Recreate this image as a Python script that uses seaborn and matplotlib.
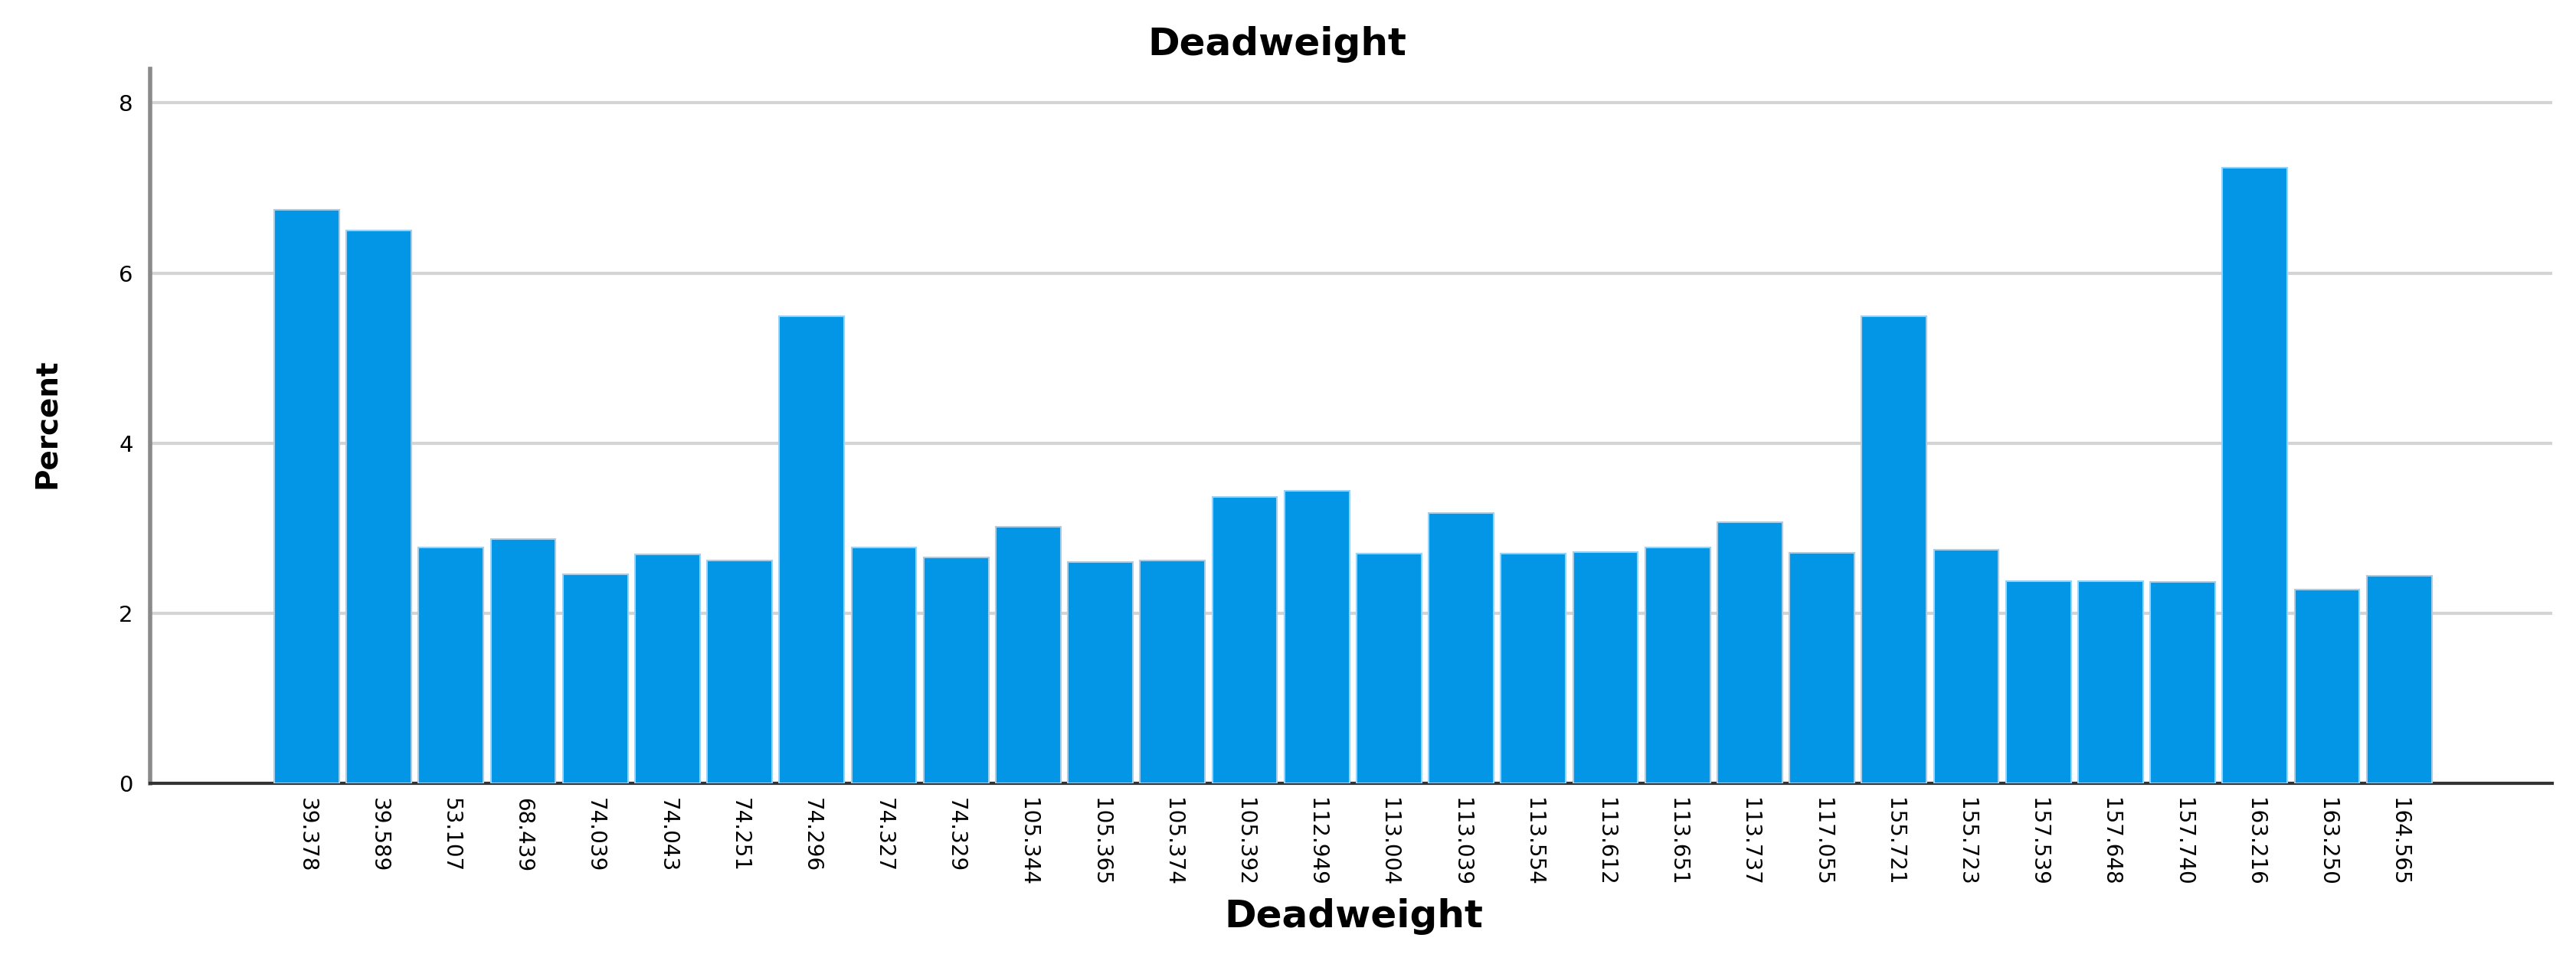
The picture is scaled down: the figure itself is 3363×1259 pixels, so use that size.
import numpy as np
import pandas as pd
import matplotlib
matplotlib.use('Agg')
import matplotlib.pyplot as plt
import seaborn as sns

# Dados
deadweight = ['39.378', '39.589', '53.107', '68.439', '74.039', '74.043', '74.251',
              '74.296', '74.327', '74.329', '105.344', '105.365', '105.374', '105.392',
              '112.949', '113.004', '113.039', '113.554', '113.612', '113.651',
              '113.737', '117.055', '155.721', '155.723', '157.539', '157.648',
              '157.740', '163.216', '163.250', '164.565']
percent = [6.74, 6.50, 2.77, 2.87, 2.46, 2.69, 2.62,
           5.49, 2.77, 2.66, 3.02, 2.60, 2.62, 3.37,
           3.44, 2.70, 3.18, 2.70, 2.72, 2.77,
           3.07, 2.71, 5.49, 2.75, 2.38, 2.38,
           2.37, 7.24, 2.28, 2.44]
y_ticks = [0, 2, 4, 6, 8]

df = pd.DataFrame({'Deadweight': deadweight, 'Percent': percent})

sns.set_style('white')
plt.rcParams['font.family'] = ['DejaVu Sans']
plt.rcParams['text.color'] = 'black'
plt.rcParams['xtick.labelcolor'] = 'black'
plt.rcParams['ytick.labelcolor'] = 'black'

W, H = 3363, 1259
fig = plt.figure(figsize=(W / 100, H / 100), dpi=100)
ax = fig.add_axes([196 / W, 1 - 1023 / H, (3332 - 196) / W, (1023 - 90) / H])

sns.barplot(data=df, x='Deadweight', y='Percent', order=deadweight,
            color='#0396E6', saturation=1, width=0.9,
            edgecolor='#9fd0f2', linewidth=1.5, ax=ax, zorder=3)

ax.set_xlim(-2.17, 31.12)
ax.set_ylim(0, 8.4)
ax.set_yticks(y_ticks)
ax.set_yticklabels([str(v) for v in y_ticks], fontsize=21, color='black')
ax.tick_params(axis='y', length=4, width=2, pad=12, color='#808080')
ax.tick_params(axis='x', length=4, width=2, pad=10, color='#333333')
ax.set_xticks(range(len(deadweight)))
ax.set_xticklabels(deadweight, rotation=270, fontsize=20, ha='center', va='top',
                   color='black')

ax.grid(axis='y', color='#d4d4d4', linewidth=3, zorder=0)
ax.set_axisbelow(True)
for s in ['top', 'right']:
    ax.spines[s].set_visible(False)
ax.spines['left'].set_color('#8a8a8a')
ax.spines['left'].set_linewidth(4)
ax.spines['bottom'].set_color('#333333')
ax.spines['bottom'].set_linewidth(3)

ax.set_xlabel('')
ax.set_ylabel('')
fig.text(1667 / W, 1 - 72 / H, 'Deadweight', ha='center', va='baseline',
         fontsize=36, fontweight='bold', color='black')
fig.text(1767 / W, 1 - 1211 / H, 'Deadweight', ha='center', va='baseline',
         fontsize=36, fontweight='bold', color='black')
fig.text(61 / W, 1 - 553 / H, 'Percent', ha='center', va='center', rotation=90,
         fontsize=28, fontweight='bold', color='black')

fig.savefig('out.png', dpi=100, facecolor='white')
